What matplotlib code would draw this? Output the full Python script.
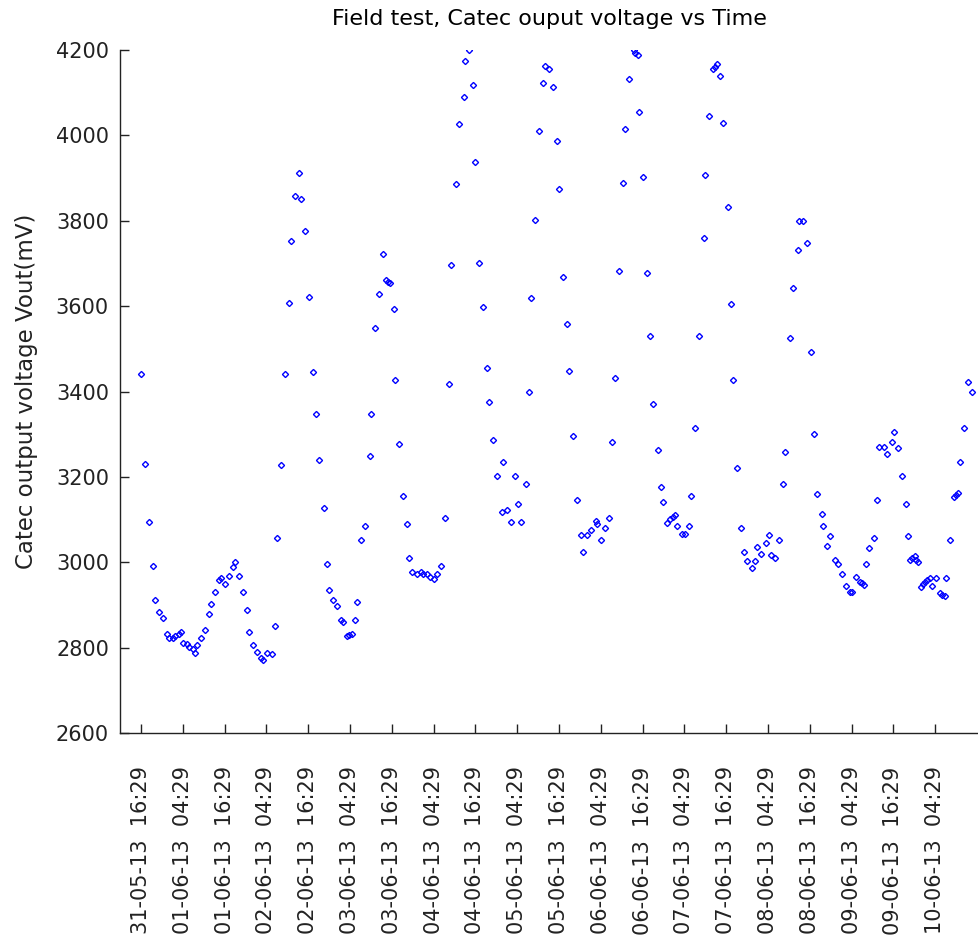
import numpy as np
import matplotlib
matplotlib.use("Agg")
import matplotlib.pyplot as plt

# Hours after 31-05-13 16:29 and Catec output voltage (mV)
hours = [
    0.0, 1.1, 2.3, 3.4, 4.0, 5.2, 6.3, 7.5, 8.0, 9.2, 9.8, 10.9, 11.5, 12.1,
    13.2, 13.8, 14.9, 15.5, 16.1, 17.2, 18.4, 19.5, 20.1, 21.3, 22.4, 23.0,
    24.1, 25.3, 26.4, 27.0, 28.1, 29.3, 30.4, 31.0, 32.2, 33.3, 34.5, 35.0,
    36.2, 37.5, 38.5, 39.1, 40.2, 41.4, 42.6, 43.2, 44.2, 45.5, 46.0, 47.2,
    48.3, 49.5, 50.1, 51.2, 52.4, 53.5, 54.1, 55.2, 56.4, 57.5, 58.1, 59.2,
    59.8, 60.5, 61.5, 62.1, 63.3, 64.4, 65.6, 66.1, 67.3, 68.4, 69.6, 70.2,
    70.8, 71.5, 72.5, 73.0, 74.2, 75.3, 76.4, 76.9, 77.9, 79.2, 80.4, 81.1,
    82.2, 83.0, 84.1, 85.0, 86.2, 87.3, 88.4, 89.1, 90.3, 91.4, 92.6, 93.1,
    94.3, 95.4, 96.0, 97.1, 98.3, 99.4, 100.0, 101.2, 102.3, 103.5, 104.0,
    105.2, 106.3, 107.5, 108.1, 109.2, 110.4, 111.5, 112.1, 113.2, 114.4,
    115.5, 116.0, 117.0, 118.4, 119.5, 120.1, 121.3, 122.4, 123.0, 124.1,
    125.3, 126.4, 127.0, 128.1, 129.3, 130.5, 131.0, 132.2, 133.3, 134.5,
    135.1, 136.2, 137.3, 138.5, 139.1, 140.2, 141.4, 141.9, 142.6, 143.1,
    144.2, 145.4, 146.0, 147.1, 148.3, 149.4, 150.0, 151.1, 151.9, 152.7,
    153.4, 154.0, 155.2, 156.2, 157.2, 158.0, 159.2, 160.3, 161.5, 162.0,
    163.2, 164.3, 164.9, 165.5, 166.1, 167.2, 168.4, 169.5, 170.1, 171.2,
    172.4, 173.0, 174.1, 175.3, 176.4, 177.0, 178.1, 179.3, 180.4, 181.0,
    182.1, 183.3, 184.4, 185.0, 186.2, 187.3, 188.5, 189.0, 190.2, 191.3,
    192.5, 193.1, 194.2, 195.4, 195.9, 197.1, 197.7, 199.3, 200.1, 201.2,
    202.4, 203.6, 204.1, 205.2, 206.3, 207.0, 207.7, 208.1, 209.1, 210.4,
    211.4, 212.0, 213.3, 214.3, 215.6, 216.1, 217.4, 218.4, 219.5, 220.2,
    220.9, 221.5, 222.1, 222.6, 223.2, 223.9, 224.5, 225.1, 225.7, 226.4,
    227.1, 228.2, 229.4, 230.1, 230.7, 231.2, 232.2, 233.3, 233.9, 234.7,
    235.2, 236.3, 237.4, 238.5,
]
vout = [
    3440, 3230, 3094, 2991, 2912, 2884, 2869, 2832, 2822, 2822, 2827, 2832,
    2837, 2812, 2809, 2802, 2797, 2787, 2805, 2822, 2841, 2878, 2902, 2930,
    2958, 2963, 2948, 2967, 2990, 3001, 2967, 2930, 2888, 2837, 2805, 2790,
    2776, 2770, 2788, 2784, 2851, 3057, 3229, 3440, 3608, 3753, 3857, 3912,
    3852, 3777, 3622, 3445, 3347, 3240, 3127, 2996, 2935, 2912, 2898, 2865,
    2860, 2827, 2830, 2832, 2865, 2907, 3053, 3084, 3248, 3347, 3548, 3628,
    3721, 3661, 3657, 3654, 3594, 3426, 3276, 3155, 3089, 3009, 2977, 2972,
    2977, 2972, 2972, 2965, 2961, 2972, 2991, 3104, 3418, 3697, 3885, 4026,
    4091, 4175, 4199, 4118, 3937, 3702, 3598, 3454, 3375, 3286, 3201, 3118,
    3235, 3122, 3094, 3201, 3136, 3094, 3183, 3399, 3618, 3801, 4010, 4123,
    4163, 4155, 4114, 3988, 3875, 3669, 3557, 3449, 3296, 3146, 3065, 3023,
    3065, 3076, 3096, 3090, 3052, 3080, 3104, 3281, 3431, 3683, 3889, 4015,
    4133, 4199, 4194, 4188, 4054, 3903, 3678, 3529, 3370, 3262, 3177, 3140,
    3093, 3101, 3106, 3110, 3085, 3066, 3066, 3085, 3155, 3314, 3529, 3759,
    3908, 4045, 4155, 4161, 4167, 4138, 4030, 3833, 3604, 3427, 3220, 3081,
    3025, 3002, 2987, 3002, 3036, 3020, 3044, 3063, 3016, 3010, 3053, 3183,
    3259, 3525, 3642, 3731, 3800, 3800, 3749, 3493, 3300, 3159, 3112, 3085,
    3038, 3061, 3005, 2996, 2973, 2945, 2930, 2930, 2966, 2954, 2951, 2947,
    2996, 3033, 3057, 3146, 3271, 3271, 3253, 3282, 3305, 3267, 3202, 3136,
    3062, 3005, 3010, 3015, 3005, 3001, 2943, 2949, 2954, 2958, 2962, 2945,
    2962, 2927, 2923, 2920, 2962, 3051, 3154, 3158, 3162, 3234, 3314, 3422,
    3398,
]

tick_hours = np.arange(0, 229, 12)
tick_labels = [
    "31-05-13 16:29", "01-06-13 04:29", "01-06-13 16:29", "02-06-13 04:29",
    "02-06-13 16:29", "03-06-13 04:29", "03-06-13 16:29", "04-06-13 04:29",
    "04-06-13 16:29", "05-06-13 04:29", "05-06-13 16:29", "06-06-13 04:29",
    "06-06-13 16:29", "07-06-13 04:29", "07-06-13 16:29", "08-06-13 04:29",
    "08-06-13 16:29", "09-06-13 04:29", "09-06-13 16:29", "10-06-13 04:29",
]

plt.rcParams['font.family'] = ['DejaVu Sans']
ink = '#222222'

fig = plt.figure(figsize=(9.79, 9.49), dpi=100)
ax = fig.add_axes([0.1226, 0.2276, 0.8774, 0.7197])

ax.plot(hours, vout, linestyle='none', marker='D', markersize=3.1,
        markerfacecolor='none', markeredgecolor='#0000ff', markeredgewidth=1.0)

ax.set_xlim(-6.03, 240.6)
ax.set_ylim(2600, 4200)
ax.set_yticks(np.arange(2600, 4201, 200))
ax.set_xticks(tick_hours)
ax.set_xticklabels([t.replace(' ', '  ') for t in tick_labels], rotation=90)

for side in ('top', 'right'):
    ax.spines[side].set_visible(False)
for side in ('left', 'bottom'):
    ax.spines[side].set_color(ink)
    ax.spines[side].set_linewidth(1.0)

ax.tick_params(axis='both', direction='in', length=6.5, width=1.0, color=ink,
               labelcolor=ink, labelsize=15)
ax.tick_params(axis='y', pad=8)
ax.tick_params(axis='x', pad=24)

ax.set_title("Field test, Catec ouput voltage vs Time", fontsize=16, color='black', pad=18)
ax.set_ylabel("Catec output voltage Vout(mV)", fontsize=16.5, color=ink)
ax.yaxis.set_label_coords(-0.096, 0.5)

fig.savefig("out.png", dpi=100)
